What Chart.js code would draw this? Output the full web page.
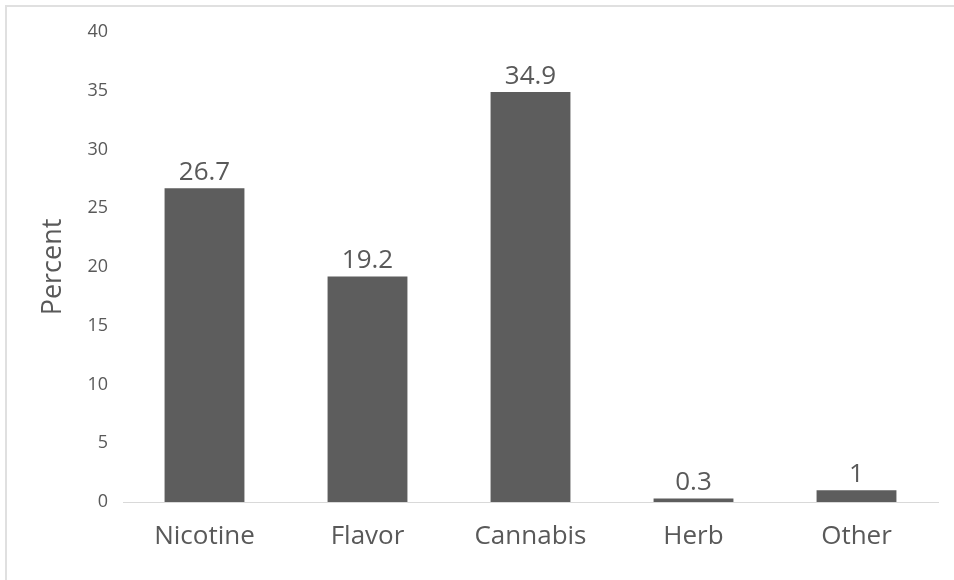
<!DOCTYPE html>
<html>
<head>
<meta charset="utf-8">
<script src="https://cdn.jsdelivr.net/npm/chart.js@4.4.1/dist/chart.umd.min.js"></script>
<style>
  html, body { margin: 0; padding: 0; background: #fff; overflow: hidden; }
  #frame { position: absolute; left: 5px; top: 5px; width: 1000px; height: 1000px; border: 2px solid #e0e0e0; }
  #wrap { position: absolute; left: 0; top: 0; width: 954px; height: 580px; }
</style>
</head>
<body>
<div id="frame"></div>
<div id="wrap"><canvas id="myChart" width="954" height="580"></canvas></div>
<script>
const categories = ["Nicotine", "Flavor", "Cannabis", "Herb", "Other"];
const percentValues = [26.7, 19.2, 34.9, 0.3, 1];
const valueLabels = ["26.7", "19.2", "34.9", "0.3", "1"];

const textColor = "#595959";
const fontFamily = "'Open Sans', 'DejaVu Sans', sans-serif";

// draws the number above each bar
const barValues = {
    id: "barValues",
    afterDatasetsDraw(chart) {
        const ctx = chart.ctx;
        const meta = chart.getDatasetMeta(0);
        ctx.save();
        ctx.fillStyle = textColor;
        ctx.font = "26px " + fontFamily;
        ctx.textAlign = "center";
        ctx.textBaseline = "alphabetic";
        meta.data.forEach((bar, i) => {
            ctx.fillText(valueLabels[i], bar.x, bar.y - 8);
        });
        ctx.restore();
    }
};

const ctx = document.getElementById("myChart").getContext("2d");
const myChart = new Chart(ctx, {
    type: "bar",
    data: {
        labels: categories,
        datasets: [
            {
                label: "Percent",
                data: percentValues,
                backgroundColor: "#5d5d5d",
                borderWidth: 0,
                barPercentage: 0.49,
                categoryPercentage: 1,
            },
        ],
    },
    options: {
        responsive: false,
        animation: false,
        layout: { padding: { top: 32, right: 16, bottom: 0, left: 0 } },
        plugins: {
            legend: { display: false },
            tooltip: { enabled: false },
        },
        scales: {
            x: {
                grid: { display: false, drawTicks: false },
                border: { display: true, color: "#d9d9d9", width: 1 },
                ticks: {
                    color: textColor,
                    font: { family: fontFamily, size: 26 },
                    padding: 19,
                    maxRotation: 0,
                },
                afterFit(scale) { scale.height = 78; },
            },
            y: {
                min: 0,
                max: 40,
                grid: { display: false, drawTicks: false },
                border: { display: false },
                ticks: {
                    stepSize: 5,
                    color: textColor,
                    font: { family: fontFamily, size: 18 },
                    padding: 15,
                },
                title: {
                    display: true,
                    text: "Percent",
                    color: textColor,
                    font: { family: fontFamily, size: 27 },
                    padding: { top: 37, bottom: 0 },
                },
                afterFit(scale) { scale.width = 123; },
            },
        },
    },
    plugins: [barValues],
});
</script>
</body>
</html>
